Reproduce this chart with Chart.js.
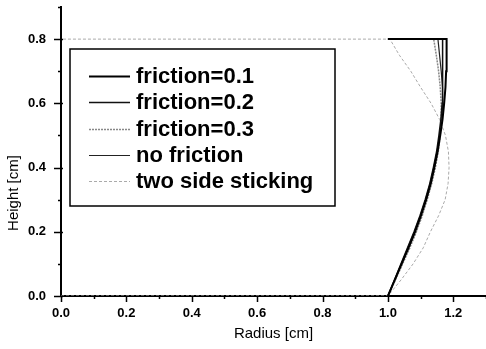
<!DOCTYPE html>
<html>
<head>
<meta charset="utf-8">
<script src="https://cdn.jsdelivr.net/npm/chart.js@4"></script>
<style>
  html, body { margin: 0; padding: 0; background: #fff; }
  #wrap { width: 486px; height: 349px; }
</style>
</head>
<body>
<div id="wrap"><canvas id="chart" width="486" height="349"></canvas></div>
<script>
// friction curves: radius at each height, then the top face back to r=1.0
const frictionHeights = [0, 0.05, 0.1, 0.15, 0.2, 0.25, 0.3, 0.35, 0.4, 0.45, 0.5, 0.55, 0.6, 0.65, 0.7, 0.75, 0.8, 0.8];
const friction01R = [1.0, 1.021, 1.042, 1.063, 1.083, 1.101, 1.117, 1.131, 1.142, 1.152, 1.160, 1.167, 1.172, 1.176, 1.178, 1.179, 1.180, 1.0];
const friction02R = [1.0, 1.020, 1.040, 1.060, 1.080, 1.098, 1.114, 1.128, 1.139, 1.149, 1.156, 1.162, 1.166, 1.168, 1.168, 1.167, 1.166, 1.0];
const friction03R = [1.0, 1.023, 1.045, 1.067, 1.087, 1.105, 1.120, 1.134, 1.145, 1.154, 1.160, 1.163, 1.163, 1.160, 1.155, 1.148, 1.140, 1.0];
const noFrictionR = [1.0, 1.021, 1.041, 1.061, 1.081, 1.099, 1.115, 1.129, 1.140, 1.150, 1.158, 1.164, 1.168, 1.167, 1.163, 1.158, 1.153, 1.0];

// two side sticking: bottom face, barrel side, top face
const twoSideH = [0, 0, 0.05, 0.1, 0.15, 0.2, 0.25, 0.3, 0.35, 0.4, 0.45, 0.5, 0.55, 0.6, 0.65, 0.7, 0.75, 0.8, 0.8];
const twoSideR = [0, 1.0, 1.04, 1.077, 1.108, 1.13, 1.155, 1.175, 1.184, 1.187, 1.185, 1.176, 1.158, 1.132, 1.1, 1.07, 1.035, 1.006, 0];

const labels = ['friction=0.1', 'friction=0.2', 'friction=0.3', 'no friction', 'two side sticking'];

function pts(rs, hs) {
  return rs.map((r, i) => ({ x: r, y: hs[i] }));
}

const isMajor = v => Math.round(v * 10) % 2 === 0;

const tickMarks = {
  id: 'tickMarks',
  afterDraw(chart) {
    const ctx = chart.ctx;
    const xs = chart.scales.x, ys = chart.scales.y;
    const area = chart.chartArea;
    ctx.save();
    ctx.strokeStyle = '#000';
    ctx.lineWidth = 1.5;
    xs.ticks.forEach(t => {
      const px = Math.round(xs.getPixelForValue(t.value)) + 0.5;
      const len = isMajor(t.value) ? 6 : 3;
      ctx.beginPath();
      ctx.moveTo(px, area.bottom);
      ctx.lineTo(px, area.bottom + len);
      ctx.stroke();
    });
    ys.ticks.forEach(t => {
      const py = Math.round(ys.getPixelForValue(t.value)) + 0.5;
      const len = isMajor(t.value) ? 7 : 3;
      ctx.beginPath();
      ctx.moveTo(area.left - len, py);
      ctx.lineTo(area.left + (isMajor(t.value) ? 2 : 0), py);
      ctx.stroke();
    });

    // y axis title, sits below the middle like the original
    ctx.fillStyle = '#000';
    ctx.font = '15px Arial, "Liberation Sans", sans-serif';
    ctx.textAlign = 'center';
    ctx.textBaseline = 'middle';
    ctx.translate(14, 193);
    ctx.rotate(-Math.PI / 2);
    ctx.fillText('Height [cm]', 0, 0);
    ctx.restore();
  }
};

const boxLegend = {
  id: 'boxLegend',
  afterDatasetsDraw(chart) {
    const ctx = chart.ctx;
    const x0 = 70, y0 = 49, w = 265, h = 157;
    ctx.save();
    ctx.fillStyle = '#fff';
    ctx.fillRect(x0, y0, w, h);
    ctx.strokeStyle = '#000';
    ctx.lineWidth = 1.5;
    ctx.strokeRect(x0, y0, w, h);
    ctx.font = 'bold 22px Arial, "Liberation Sans", sans-serif';
    ctx.textBaseline = 'middle';
    ctx.textAlign = 'left';
    chart.data.datasets.forEach((ds, i) => {
      const y = 76 + i * 26.3;
      ctx.strokeStyle = ds.borderColor;
      ctx.lineWidth = ds.borderWidth;
      ctx.setLineDash(ds.borderDash || []);
      ctx.beginPath();
      ctx.moveTo(89, Math.round(y) + 0.5);
      ctx.lineTo(130, Math.round(y) + 0.5);
      ctx.stroke();
      ctx.setLineDash([]);
      ctx.fillStyle = '#000';
      ctx.fillText(ds.label, 136, y + 1);
    });
    ctx.restore();
  }
};

const ctx = document.getElementById('chart').getContext('2d');
new Chart(ctx, {
  type: 'scatter',
  data: {
    datasets: [
      { label: labels[0], data: pts(friction01R, frictionHeights), borderColor: '#000', borderWidth: 2 },
      { label: labels[1], data: pts(friction02R, frictionHeights), borderColor: '#111', borderWidth: 1.5 },
      { label: labels[2], data: pts(friction03R, frictionHeights), borderColor: '#888', borderWidth: 1.5, borderDash: [2, 1] },
      { label: labels[3], data: pts(noFrictionR, frictionHeights), borderColor: '#222', borderWidth: 1.2 },
      { label: labels[4], data: pts(twoSideR, twoSideH), borderColor: '#aaa', borderWidth: 1, borderDash: [3, 2] },
    ].map(d => Object.assign(d, { showLine: true, pointRadius: 0, fill: false, tension: 0 }))
  },
  options: {
    responsive: false,
    animation: false,
    layout: { padding: { top: 7, right: 0, left: 0, bottom: 0 } },
    plugins: { legend: { display: false }, tooltip: { enabled: false } },
    scales: {
      x: {
        type: 'linear',
        min: 0, max: 1.3,
        grid: { display: false },
        border: { color: '#000', width: 2 },
        ticks: {
          stepSize: 0.1, autoSkip: false, padding: 2, color: '#000',
          font: { family: 'Arial, "Liberation Sans", sans-serif', size: 13, weight: 'bold' },
          callback: v => isMajor(v) ? v.toFixed(1) : ''
        },
        title: {
          display: true, text: 'Radius [cm]', color: '#000',
          font: { family: 'Arial, "Liberation Sans", sans-serif', size: 15 },
          padding: { top: 0, bottom: 6 }
        },
        afterFit(scale) {
          scale.height = 53;
          scale.paddingLeft = 0;
          scale.paddingRight = 0;
        }
      },
      y: {
        type: 'linear',
        min: 0, max: 0.9,
        grid: { display: false },
        border: { color: '#000', width: 2 },
        ticks: {
          stepSize: 0.1, autoSkip: false, padding: 7, color: '#000',
          font: { family: 'Arial, "Liberation Sans", sans-serif', size: 13, weight: 'bold' },
          callback: v => isMajor(v) ? v.toFixed(1) : ''
        },
        afterFit(scale) {
          scale.width = 61;
          scale.paddingTop = 0;
          scale.paddingBottom = 0;
        }
      }
    }
  },
  plugins: [tickMarks, boxLegend]
});
</script>
</body>
</html>
